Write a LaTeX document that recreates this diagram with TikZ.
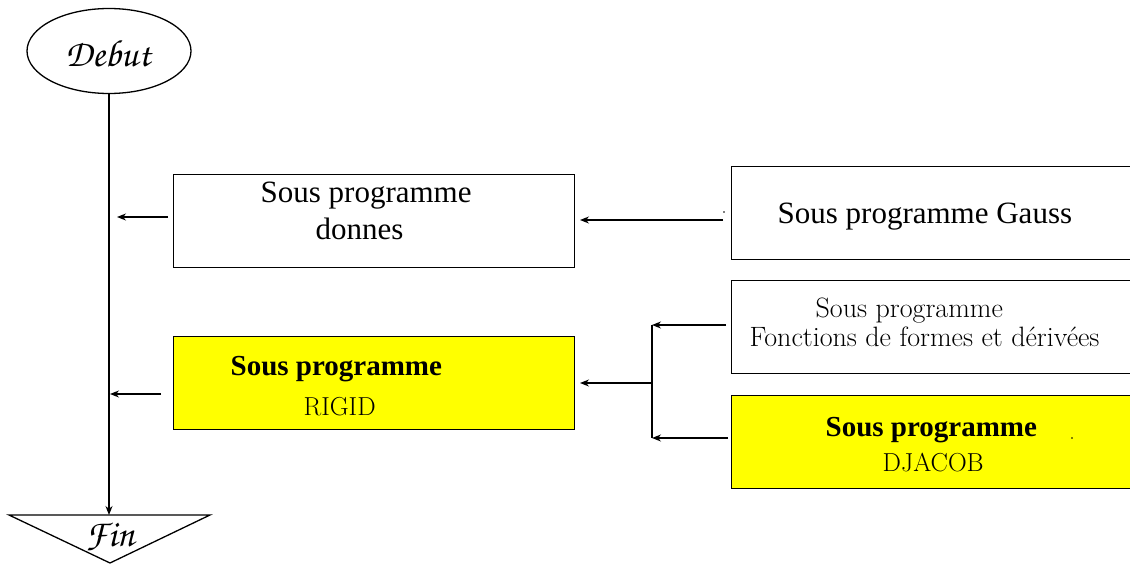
\documentclass[tikz,border=0pt]{standalone}
\usepackage[T1]{fontenc}
\usepackage{fontspec}
\newfontfamily\timesfont{Liberation Serif}
\usetikzlibrary{shapes.geometric,arrows.meta}
\newcommand\chanceryfont{\usefont{T1}{pzc}{mb}{it}}
\definecolor{boxyellow}{HTML}{FFFF00}
\begin{document}
\begin{tikzpicture}[x=1pt,y=-1pt,line width=1.3pt,
  box/.style={draw,rectangle,anchor=north west,minimum height=93pt,inner sep=0pt},
  yellowbox/.style={box,fill=boxyellow},
  timestxt/.style={anchor=base west,inner sep=0pt,font=\timesfont\fontsize{31}{36}\selectfont},
  timesbold/.style={anchor=base west,inner sep=0pt,font=\timesfont\bfseries\fontsize{29}{34}\selectfont},
  lmtxt/.style={anchor=base west,inner sep=0pt,font=\fontsize{26}{30}\selectfont},
  lmwide/.style={anchor=base west,inner sep=0pt,font=\fontsize{28}{32}\selectfont},
  scripttxt/.style={inner sep=0pt,font=\chanceryfont\fontsize{38}{42}\selectfont},
  arr/.style={-{Stealth[length=9pt,width=7pt]}}]
\useasboundingbox (0,0) rectangle (1130,564);

% start and end symbols
\node[draw,ellipse,minimum width=164pt,minimum height=85pt,inner sep=0pt] (debut) at (109,51) {};
\node[scripttxt] (debuttxt) at (108,53) {Debut};
\draw (9,515) -- (210,515) -- (110,563) -- cycle;
\coordinate (fintop) at (109,515);
\node[scripttxt] (fin) at (110,537) {Fin};
\draw[arr] (debut.south) -- (fintop);

% left column
\node[box,minimum width=401pt] (donnes) at (173,174) {};
\node[timestxt] (donnes1) at (260,203) {Sous programme};
\node[timestxt] (donnes2) at (315,240) {donnes};

\node[yellowbox,minimum width=401pt] (rigid) at (173,336) {};
\node[timesbold] (rigid1) at (230,375) {Sous programme};
\node[lmtxt] (rigid2) at (303,415) {RIGID};

% right column (runs past the right edge)
\node[box,minimum width=420pt] (gauss) at (731,166) {};
\node[timestxt] (gauss1) at (777,224) {Sous programme Gauss};

\node[box,minimum width=420pt] (fonctions) at (731,280) {};
\node[lmwide] (fonc1) at (815,317) {Sous programme};
\node[lmwide] (fonc2) at (749,346) {Fonctions de formes et dérivées};

\node[yellowbox,minimum width=420pt] (djacob) at (731,395) {};
\node[timesbold] (djacob1) at (825,436) {Sous programme};
\node[lmtxt] (djacob2) at (882,471) {DJACOB};

% connectors
\coordinate (donnesout) at (168,217);
\coordinate (donnesin) at (117,217);
\draw[arr] (donnesout) -- (donnesin);

\coordinate (gaussout) at (723,220);
\coordinate (gaussin) at (580,220);
\draw[arr] (gaussout) -- (gaussin);

\coordinate (rigidout) at (161,394);
\coordinate (rigidin) at (110,394);
\draw[arr] (rigidout) -- (rigidin);

\coordinate (bartop) at (652,325);
\coordinate (barmid) at (652,383);
\coordinate (barbot) at (652,438);
\draw (bartop) -- (barbot);
\coordinate (foncout) at (726,325);
\coordinate (djacobout) at (728,438);
\draw[arr] (foncout) -- (bartop);
\draw[arr] (djacobout) -- (barbot);
\coordinate (rigidright) at (580,383);
\draw[arr] (barmid) -- (rigidright);

% small specks
\fill (724,212) circle (0.8);
\fill (1072,438) circle (0.8);
\end{tikzpicture}
\end{document}
